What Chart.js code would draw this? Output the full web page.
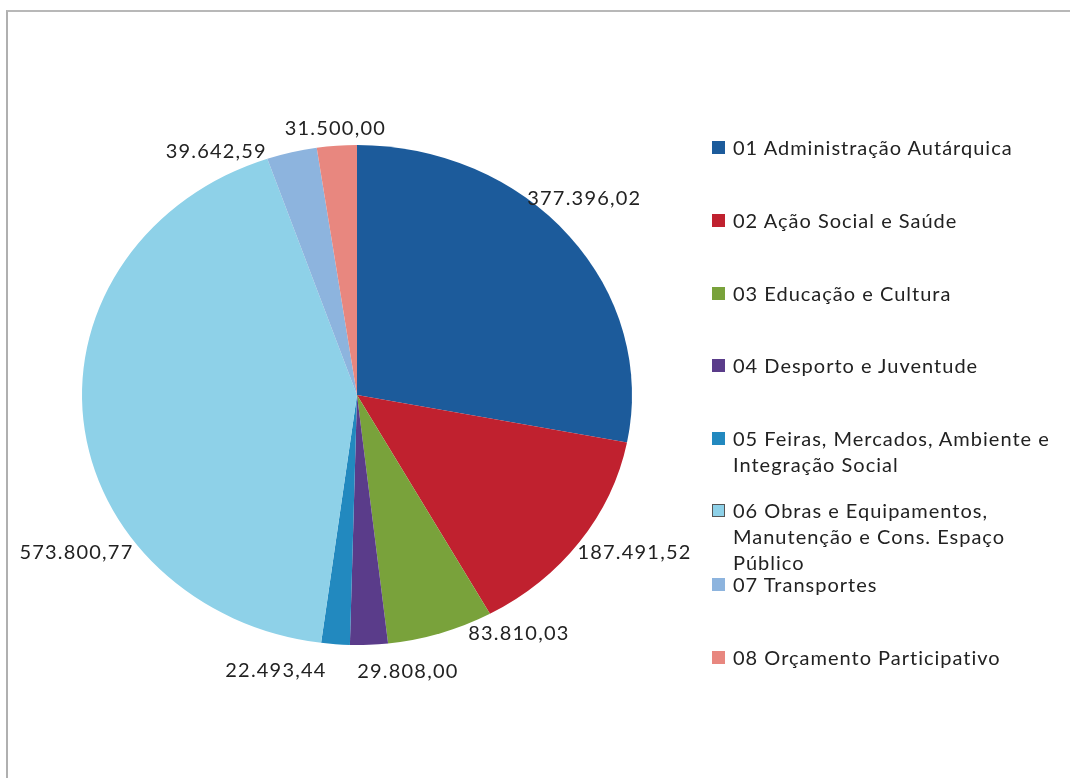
<!DOCTYPE html>
<html>
<head>
<meta charset="utf-8">
<script src="https://cdn.jsdelivr.net/npm/chart.js@4.4.1/dist/chart.umd.min.js"></script>
<style>
  html,body{margin:0;padding:0;background:#fff;}
  #wrap{position:relative;width:1070px;height:778px;overflow:hidden;background:#fff;}
  #frame{position:absolute;left:6px;top:10px;width:1100px;height:800px;border-left:2px solid #b0b0b0;border-top:2px solid #b8b8b8;box-sizing:border-box;}
  #c{position:absolute;left:0;top:0;}
  #legend{position:absolute;left:0;top:0;width:1070px;height:778px;pointer-events:none;}
  .li{position:absolute;left:712px;font-family:Lato,"Open Sans",sans-serif;font-size:20px;letter-spacing:1px;line-height:26px;color:#222;}
  .sw{position:absolute;left:0;top:7px;width:13px;height:13px;}
  .tx{position:absolute;left:21px;top:0;width:335px;}
</style>
</head>
<body>
<div id="wrap">
  <div id="frame"></div>
  <canvas id="c" width="1070" height="778"></canvas>
  <div id="legend"></div>
</div>
<script>
// ---- data ----
const categories = [
  "01 Administração Autárquica",
  "02 Ação Social e Saúde",
  "03 Educação e Cultura",
  "04 Desporto e Juventude",
  "05 Feiras, Mercados, Ambiente e Integração Social",
  "06 Obras e Equipamentos, Manutenção e Cons. Espaço Público",
  "07 Transportes",
  "08 Orçamento Participativo"
];
const values = [377396.02, 187491.52, 83810.03, 29808.00, 22493.44, 573800.77, 39642.59, 31500.00];
const colors = ["#1C5B9B", "#C0212F", "#79A23B", "#5A3C8A", "#2289BF", "#8ED1E8", "#8DB4DE", "#E8877F"];

function fmt(v){
  const parts = v.toFixed(2).split(".");
  parts[0] = parts[0].replace(/\B(?=(\d{3})+(?!\d))/g, ".");
  return parts[0] + "," + parts[1];
}

const STRETCH = 1.1;
// label placement tweaks (angle offset in degrees, radial factor)
const labelAdj = [[-4,1.14],[-4,1.19],[-14,1.12],[-7,1.12],[10.5,1.14],[-26,1.2],[-14,1.1],[0,1.07]];

const stretchPlugin = {
  id:"stretch",
  beforeDatasetsDraw(chart){
    const a = chart.chartArea, ctx = chart.ctx;
    const cx=(a.left+a.right)/2, cy=(a.top+a.bottom)/2;
    ctx.save(); ctx.translate(cx,cy); ctx.scale(STRETCH,1); ctx.translate(-cx,-cy);
  },
  afterDatasetsDraw(chart){ chart.ctx.restore(); }
};

const labelPlugin = {
  id:"vlabels",
  afterDraw(chart){
    const ctx = chart.ctx;
    const meta = chart.getDatasetMeta(0);
    ctx.save();
    ctx.font = "20px Lato, 'Open Sans', sans-serif";
    try{ ctx.letterSpacing = "1.2px"; }catch(e){}
    ctx.fillStyle = "#222";
    ctx.textAlign = "center"; ctx.textBaseline = "middle";
    meta.data.forEach((arc,i)=>{
      const mid = (arc.startAngle+arc.endAngle)/2 + labelAdj[i][0]*Math.PI/180;
      const f = labelAdj[i][1];
      const rx = arc.outerRadius*STRETCH, ry = arc.outerRadius;
      const x = arc.x + Math.cos(mid)*rx*f;
      const y = arc.y + Math.sin(mid)*ry*f;
      ctx.fillText(fmt(values[i]), x, y);
    });
    ctx.restore();
  }
};

new Chart(document.getElementById("c"), {
  type:"pie",
  data:{ labels:categories, datasets:[{ data:values, backgroundColor:colors, borderWidth:0 }] },
  options:{
    responsive:false, animation:false,
    layout:{ padding:{ left:57, right:413, top:145, bottom:133 } },
    plugins:{ legend:{display:false}, tooltip:{enabled:false} }
  },
  plugins:[stretchPlugin, labelPlugin]
});

// legend
const legend = document.getElementById("legend");
const legendTops = [134, 207, 280, 352, 425, 497, 571, 644];
categories.forEach((c,i)=>{
  const d = document.createElement("div");
  d.className="li"; d.style.top = legendTops[i]+"px";
  const s = document.createElement("div"); s.className="sw"; s.style.background = colors[i];
  if(i===5){ s.style.border="1px solid #555"; s.style.boxSizing="border-box"; }
  const t = document.createElement("div"); t.className="tx"; t.textContent = c;
  d.appendChild(s); d.appendChild(t); legend.appendChild(d);
});
</script>
</body>
</html>
